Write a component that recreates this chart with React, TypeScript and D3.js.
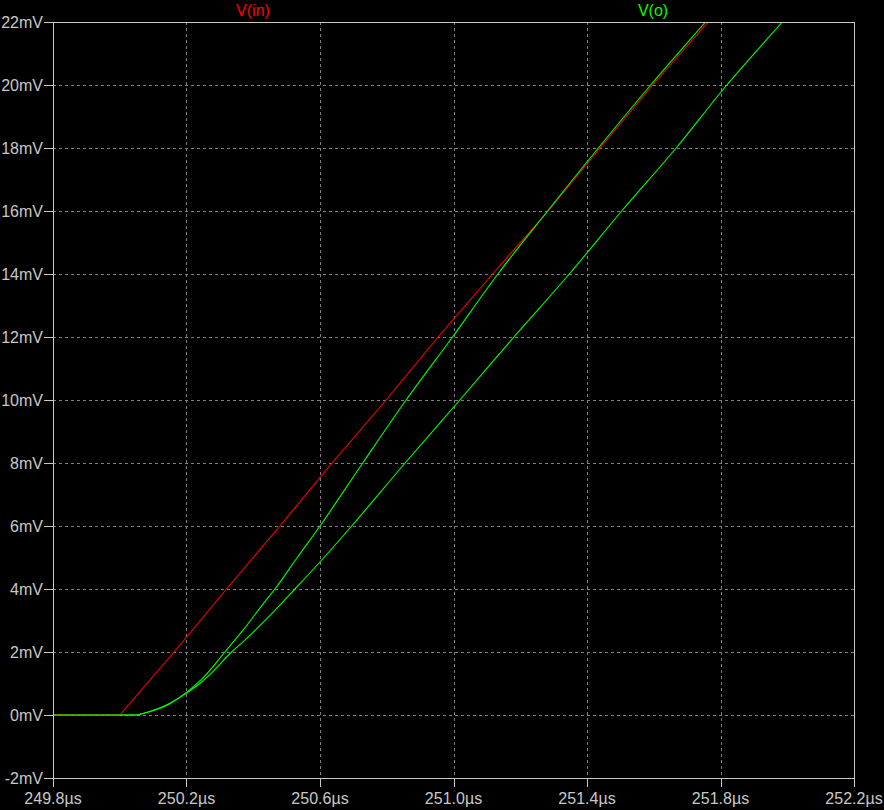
import React from "react";
import * as d3 from "d3";

// ---- data (time in µs, voltage in mV) ----
const xTicks = [249.8, 250.2, 250.6, 251.0, 251.4, 251.8, 252.2];
const yTicks = [-2, 0, 2, 4, 6, 8, 10, 12, 14, 16, 18, 20, 22];

const vinT = [249.8, 250.0, 250.163, 250.32, 250.48, 250.636, 250.798, 250.954, 251.117, 251.284, 251.439, 251.597, 251.763, 251.8];
const vinV = [0, 0, 2, 4, 6, 8, 10, 12, 14, 16, 18, 20, 22, 22.45];

const vo1T = [249.8, 250.046, 250.08, 250.15, 250.2, 250.24, 250.27, 250.315, 250.37, 250.435, 250.465, 250.532, 250.6, 250.728, 250.858, 250.997, 251.133, 251.282, 251.434, 251.591, 251.755, 251.8];
const vo1V = [0, 0, 0.08, 0.37, 0.72, 1.08, 1.42, 2, 2.7, 3.6, 4, 5, 6, 8, 10, 12, 14, 16, 18, 20, 22, 22.55];

const vo2T = [249.8, 250.046, 250.08, 250.15, 250.2, 250.24, 250.27, 250.335, 250.37, 250.44, 250.525, 250.612, 250.695, 250.855, 251.019, 251.181, 251.347, 251.504, 251.667, 251.819, 251.985, 252.03];
const vo2V = [0, 0, 0.08, 0.36, 0.7, 1.0, 1.28, 2, 2.33, 3.05, 4, 5, 6, 8, 10, 12, 14, 16, 18, 20, 22, 22.55];

const seriesNames = ["V(in)", "V(o)"];

const W = 884, H = 810;
const L = 53, R = 854, T = 22, B = 778;
const AXIS = "#c8c8c8";
const GRID = "#808080";
const FONT = "'Liberation Sans', Arial, sans-serif";

export default function App() {
  const x = d3.scaleLinear().domain([249.8, 252.2]).range([L, R]);
  const y = d3.scaleLinear().domain([-2, 22]).range([B, T]);

  const linear = d3.line<[number, number]>().x(d => x(d[0])).y(d => y(d[1]));
  const smooth = d3.line<[number, number]>().x(d => x(d[0])).y(d => y(d[1])).curve(d3.curveMonotoneX);

  const zip = (a: number[], b: number[]) => a.map((t, i) => [t, b[i]] as [number, number]);

  return (
    <svg width={W} height={H} style={{ position: "fixed", left: 0, top: 0, background: "#000" }}>
      <rect x={0} y={0} width={W} height={H} fill="#000" />
      <defs>
        <clipPath id="plot">
          <rect x={L} y={T} width={R - L} height={B - T} />
        </clipPath>
      </defs>
      {/* grid */}
      {xTicks.slice(1, -1).map(t => (
        <line key={"gx" + t} x1={Math.round(x(t)) + 0.5} x2={Math.round(x(t)) + 0.5} y1={T} y2={B}
          stroke={GRID} strokeWidth={1} strokeDasharray="3,3" shapeRendering="crispEdges" />
      ))}
      {yTicks.slice(1, -1).map(v => (
        <line key={"gy" + v} x1={L} x2={R} y1={Math.round(y(v)) + 0.5} y2={Math.round(y(v)) + 0.5}
          stroke={GRID} strokeWidth={1} strokeDasharray="3,3" shapeRendering="crispEdges" />
      ))}
      {/* traces */}
      <g clipPath="url(#plot)" fill="none" strokeWidth={1.1}>
        <path d={smooth(zip(vo2T, vo2V)) || ""} stroke="#00ff00" />
        <path d={linear(zip(vinT, vinV)) || ""} stroke="#ff0000" />
        <path d={smooth(zip(vo1T, vo1V)) || ""} stroke="#00ff00" />
      </g>
      {/* frame */}
      <rect x={L + 0.5} y={T + 0.5} width={R - L} height={B - T} fill="none" stroke={AXIS} strokeWidth={1} shapeRendering="crispEdges" />
      {/* y ticks */}
      {yTicks.map(v => (
        <g key={"ty" + v}>
          <line x1={L - 9} x2={L} y1={Math.round(y(v)) + 0.5} y2={Math.round(y(v)) + 0.5} stroke={AXIS} shapeRendering="crispEdges" />
          <text x={L - 10} y={y(v)} dy="0.36em" textAnchor="end" fill={AXIS} fontFamily={FONT} fontSize={16}>{v}mV</text>
        </g>
      ))}
      {/* x ticks */}
      {xTicks.map(t => (
        <g key={"tx" + t}>
          <line x1={Math.round(x(t)) + 0.5} x2={Math.round(x(t)) + 0.5} y1={B} y2={B + 9} stroke={AXIS} shapeRendering="crispEdges" />
          <text x={x(t)} y={804} textAnchor="middle" fill={AXIS} fontFamily={FONT} fontSize={16}>{t.toFixed(1)}µs</text>
        </g>
      ))}
      {/* legend */}
      <text x={253} y={16} textAnchor="middle" fill="#ff0000" fontFamily={FONT} fontSize={16}>{seriesNames[0]}</text>
      <text x={653} y={16} textAnchor="middle" fill="#00ff00" fontFamily={FONT} fontSize={16}>{seriesNames[1]}</text>
    </svg>
  );
}
